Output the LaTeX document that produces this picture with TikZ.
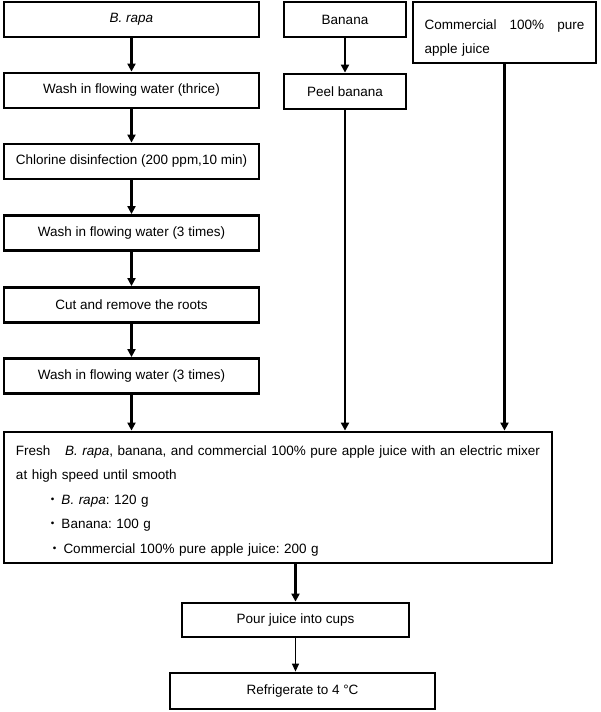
\documentclass[tikz,border=0pt]{standalone}
\usepackage{fontspec}
\setmainfont{Liberation Sans}
\newfontfamily\cjkfont{Noto Sans CJK JP}
\usetikzlibrary{arrows.meta}
\begin{document}
\begin{tikzpicture}[x=1pt,y=-1pt,
  box/.style={draw, line width=2.8pt, minimum height=35pt, inner sep=0pt, font=\fontsize{13.5}{16}\selectfont\frenchspacing},
  lbox/.style={box, minimum width=255pt},
  arr/.style={line width=2.6pt, -{Triangle[length=8pt,width=8pt]}},
  thinarr/.style={line width=1.3pt, -{Triangle[length=8pt,width=7pt]}}]
\useasboundingbox (0,0) rectangle (600,712);
% left column
\node[lbox] (rapa) at (131.5,19.5) {\textit{B. rapa}};
\node[lbox] (w1) at (131.5,90.5) {Wash in flowing water (thrice)};
\node[lbox] (chl) at (131.5,161.5) {Chlorine disinfection (200 ppm,10 min)};
\node[lbox] (w2) at (131.5,233) {Wash in flowing water (3 times)};
\node[lbox] (cut) at (131.5,305) {Cut and remove the roots};
\node[lbox] (w3) at (131.5,376) {Wash in flowing water (3 times)};
% middle column
\node[box, minimum width=122pt] (ban) at (345,19.5) {Banana};
\node[box, minimum width=122pt] (peel) at (345,91.5) {Peel banana};
% right column
\node[box, minimum width=183pt, minimum height=61pt, text width=160pt, inner xsep=11.5pt, align=left, font=\fontsize{13.5}{24}\selectfont\frenchspacing] (comm) at (504.5,32.5) {\rule{0pt}{20pt}Commercial\hfill 100\%\hfill pure\\apple juice};
% mixing box
\node[draw, line width=2.8pt, minimum width=548pt, minimum height=131pt, inner xsep=12pt, inner ysep=0pt, text width=524pt, align=left, font=\fontsize{13.5}{24.5}\selectfont\frenchspacing] (mix) at (278,497.5)
 {\rule{0pt}{16pt}Fresh\hfill\textit{B. rapa}, banana, and commercial 100\% pure apple juice with an electric mixer\hspace{7pt}\\
  at high speed until smooth\\
  \hspace*{30pt}{\cjkfont ・}\hspace{2pt}\textit{B. rapa}: 120 g\\
  \hspace*{30pt}{\cjkfont ・}\hspace{2pt}Banana: 100 g\\
  \hspace*{32pt}{\cjkfont ・}\hspace{2pt}Commercial 100\% pure apple juice: 200 g};
\node[box, minimum width=227pt, minimum height=34pt] (pour) at (295.5,620) {Pour juice into cups};
\node[box, minimum width=265pt, minimum height=36pt] (ref) at (302.5,691) {Refrigerate to 4 °C};
% connectors
\draw[arr] (rapa) -- (w1);
\draw[arr] (w1) -- (chl);
\draw[arr] (chl) -- (w2);
\draw[arr] (w2) -- (cut);
\draw[arr] (cut) -- (w3);
\draw[arr] (w3.south) -- (w3.south |- mix.north);
\draw[arr] (ban) -- (peel);
\draw[arr] (peel.south) -- (peel.south |- mix.north);
\draw[arr] (comm.south) -- (comm.south |- mix.north);
\draw[arr] (pour.north |- mix.south) -- (pour.north);
\draw[thinarr] (pour.south) -- (pour.south |- ref.north);
\end{tikzpicture}
\end{document}
